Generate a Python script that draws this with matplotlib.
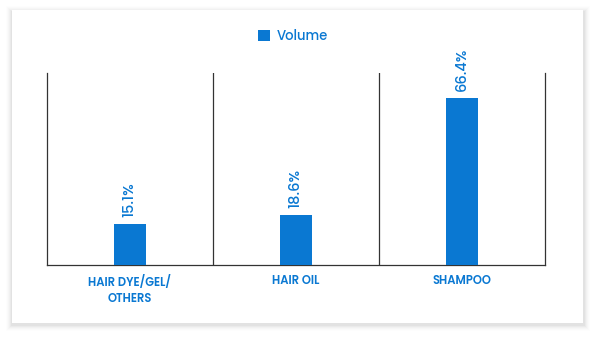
import matplotlib.pyplot as plt
from matplotlib.patches import Rectangle

categories = ['HAIR DYE/GEL/\nOTHERS', 'HAIR OIL', 'SHAMPOO']
volume = [15.1, 18.6, 66.4]
labels = ['15.1%', '18.6%', '66.4%']

blue = '#0a78d2'
plt.rcParams['font.family'] = ['Poppins', 'Roboto', 'DejaVu Sans']

fig = plt.figure(figsize=(5.97, 3.39), dpi=100)
fig.patch.set_facecolor('white')

# card with soft shadow
W, H = 597.0, 339.0
for i, a in enumerate([0.008, 0.012, 0.016, 0.020, 0.026, 0.032]):
    d = 6 - i
    fig.patches.append(Rectangle(((12 - d) / W, (H - 325 - d) / H), (572 + 2 * d) / W, (313 + 2 * d) / H,
                                 transform=fig.transFigure, facecolor='black', alpha=a,
                                 edgecolor='none', zorder=0))
fig.patches.append(Rectangle((12 / W, (H - 323) / H), 571 / W, 313 / H,
                             transform=fig.transFigure, facecolor='white',
                             edgecolor='none', zorder=1))

ax = fig.add_axes([47 / W, (H - 265) / H, (545 - 47) / W, (265 - 73) / H])
ax.set_zorder(5)
ax.set_facecolor('none')
ymin, ymax = -1.8, 76.5
x = range(len(categories))
bars = ax.bar(x, [v - ymin for v in volume], bottom=ymin, width=0.19, color=blue, zorder=3)
for b, v, t in zip(bars, volume, labels):
    ax.annotate(t, (b.get_x() + b.get_width() / 2, v), xytext=(0, 5), textcoords='offset points',
                rotation=90, ha='center', va='bottom', color=blue, fontsize=10.5, fontweight='medium')

ax.set_xlim(-0.5, 2.5)
ax.set_ylim(ymin, ymax)
for xv in [0.5, 1.5]:
    ax.axvline(xv, color='#333333', lw=0.9)
for s in ['left', 'right', 'bottom']:
    ax.spines[s].set_color('#333333')
    ax.spines[s].set_linewidth(0.9)
ax.spines['top'].set_visible(False)
ax.set_yticks([])
ax.set_xticks(list(x))
ax.set_xticklabels(categories, color=blue, fontsize=8.3, fontweight='semibold', linespacing=1.5)
ax.tick_params(axis='x', length=0, pad=7)

leg = fig.legend(handles=[bars], labels=['Volume'], loc='center', bbox_to_anchor=(293 / W, (H - 37) / H),
                 frameon=False, fontsize=9.5, handlelength=0.9, handleheight=0.9, handletextpad=0.5)
leg.set_zorder(6)
for t in leg.get_texts():
    t.set_color(blue)
    t.set_fontweight('medium')

fig.savefig('out.png', dpi=100)
